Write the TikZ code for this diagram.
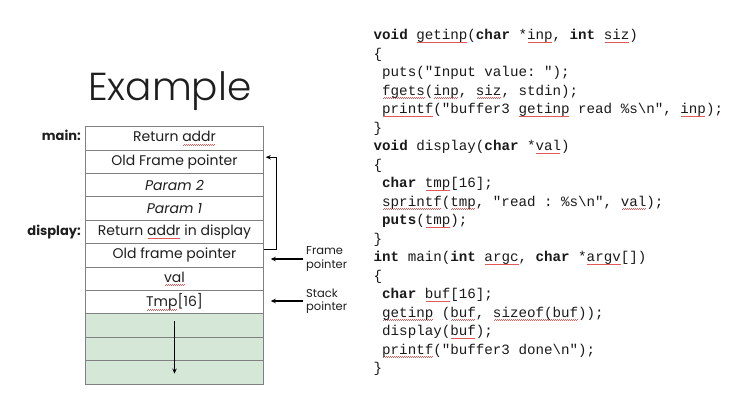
\documentclass[tikz,border=0pt]{standalone}
\usepackage{fontspec}
\setmainfont{Poppins}
\setmonofont{Liberation Mono}
\newfontfamily\titlefont{Poppins Light}
\usetikzlibrary{arrows.meta}

% red wavy underline for flagged words
\definecolor{squig}{RGB}{225,90,90}
\newcommand\sq[1]{\setbox0\hbox{#1}\rlap{\textcolor{squig}{\cleaders\hbox{\rule[-3.3pt]{1pt}{0.55pt}\rule[-2.6pt]{1pt}{0.55pt}}\hskip\wd0\relax}}\box0\relax}

\definecolor{cellgray}{RGB}{128,128,128}
\definecolor{stackgreen}{RGB}{213,232,215}
\definecolor{ink}{RGB}{30,30,30}

\tikzset{
  cell/.style={draw=cellgray, line width=0.9pt, minimum width=177.6pt,
    minimum height=23.4pt, inner sep=0pt, text=ink,
    font=\fontsize{14}{14}\selectfont},
  freecell/.style={cell, fill=stackgreen},
  codeline/.style={anchor=base west, inner sep=0pt, text=black!90,
    font=\fontsize{14.2}{14}\ttfamily},
  framelabel/.style={anchor=base east, inner sep=0pt, text=ink,
    font=\bfseries\fontsize{13}{13}\selectfont},
  ptrlabel/.style={anchor=west, inner sep=0pt, align=left, text=ink,
    font=\fontsize{11.5}{13.5}\selectfont},
  ptr/.style={-{Stealth[length=5pt,width=4.5pt]}, line width=1.1pt},
}

\begin{document}
\begin{tikzpicture}[x=1pt,y=-1pt]
\useasboundingbox (0,0) rectangle (738,408);

% title
\node[anchor=base west, inner sep=0pt, text=ink,
      font=\titlefont\fontsize{39}{39}\selectfont] (title) at (88,100) {Example};

% stack frames
\node[cell] (r1) at (174.5,138.4) {Return \sq{addr}};
\node[cell] (r2) at (174.5,161.8) {Old Frame pointer};
\node[cell] (r3) at (174.5,185.2) {\textit{Param 2}};
\node[cell] (r4) at (174.5,208.6) {\textit{Param 1}};
\node[cell] (r5) at (174.5,232.0) {Return \sq{addr} in display};
\node[cell] (r6) at (174.5,255.4) {Old frame pointer};
\node[cell] (r7) at (174.5,278.8) {\sq{val}};
\node[cell] (r8) at (174.5,302.2) {\sq{Tmp}[16]};
\node[freecell] (r9) at (174.5,325.6) {};
\node[freecell] (r10) at (174.5,349.0) {};
\node[freecell] (r11) at (174.5,372.4) {};

\node[framelabel] (lmain) at (81,140.5) {main:};
\node[framelabel] (ldisp) at (81,235.5) {display:};

% saved frame pointer link
\draw[ptr] ([yshift=-6.5pt]r6.north east) -- ++(13,0)
  |- ([xshift=2pt,yshift=-7.6pt]r2.north east);

% growth direction
\draw[ptr] ([yshift=-8pt]r9.north) -- ([yshift=11pt]r11.south);

% register pointers
\node[ptrlabel] (fp) at (306,259) {Frame\\pointer};
\node[ptrlabel] (sp) at (306,301) {Stack\\pointer};
\draw[ptr, shorten <=3pt, shorten >=7pt] (fp.west) -- (r6.east |- fp.west);
\draw[ptr, shorten <=3pt, shorten >=7pt] (sp.west) -- (r8.east |- sp.west);

% source listing
\node[codeline] (c1) at (373.5,39.5) {\textbf{void} \sq{getinp}(\textbf{char} *\sq{inp}, \textbf{int} \sq{siz})};
\node[codeline] (c2) at (373.5,58.0) {\{};
\node[codeline] (c3) at (382,76.5) {puts("Input value: ");};
\node[codeline] (c4) at (382,95.0) {\sq{fgets}(\sq{inp}, \sq{siz}, stdin);};
\node[codeline] (c5) at (382,113.5) {\sq{printf}("buffer3 \sq{getinp} read \%s\textbackslash n", \sq{inp});};
\node[codeline] (c6) at (373.5,132.0) {\}};
\node[codeline] (c7) at (373.5,150.5) {\textbf{void} display(\textbf{char} *\sq{val})};
\node[codeline] (c8) at (373.5,169.0) {\{};
\node[codeline] (c9) at (382,187.5) {\textbf{char} \sq{tmp}[16];};
\node[codeline] (c10) at (382,206.0) {\sq{sprintf}(\sq{tmp}, "read : \%s\textbackslash n", \sq{val});};
\node[codeline] (c11) at (382,224.5) {\textbf{puts}(\sq{tmp});};
\node[codeline] (c12) at (373.5,243.0) {\}};
\node[codeline] (c13) at (373.5,261.5) {\textbf{int} main(\textbf{int} \sq{argc}, \textbf{char} *\sq{argv}[])};
\node[codeline] (c14) at (373.5,280.0) {\{};
\node[codeline] (c15) at (382,298.5) {\textbf{char} \sq{buf}[16];};
\node[codeline] (c16) at (382,317.0) {\sq{getinp} (\sq{buf}, \sq{sizeof(buf}));};
\node[codeline] (c17) at (382,335.5) {display(\sq{buf});};
\node[codeline] (c18) at (382,354.0) {\sq{printf}("buffer3 done\textbackslash n");};
\node[codeline] (c19) at (373.5,372.5) {\}};
\end{tikzpicture}
\end{document}
